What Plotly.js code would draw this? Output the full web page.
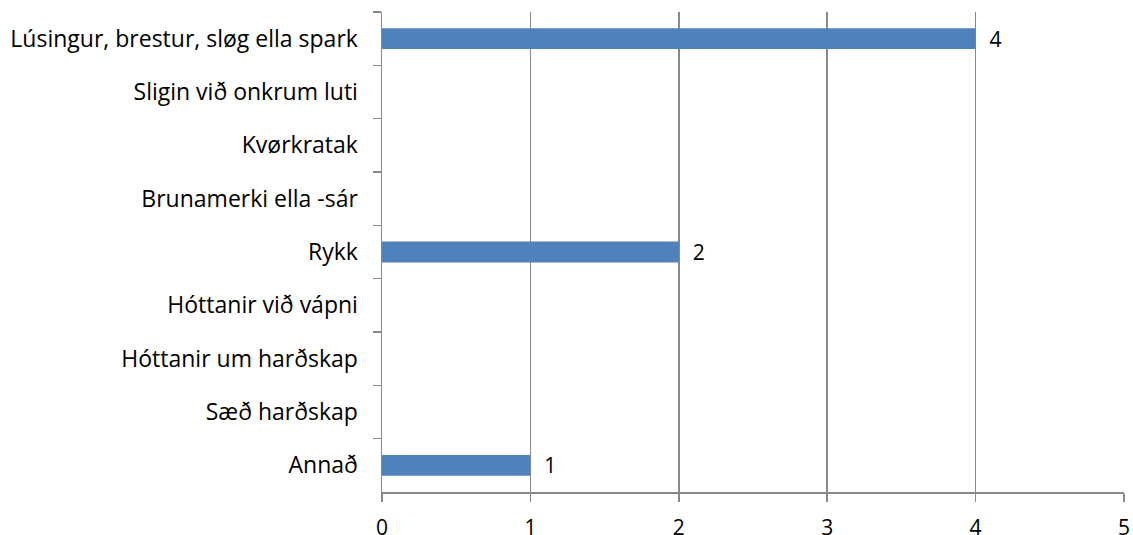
<!DOCTYPE html>
<html><head><meta charset="utf-8">
<script src="https://cdn.plot.ly/plotly-3.0.1.min.js"></script>
<style>html,body{margin:0;padding:0;background:#fff}#c{width:1133px;height:535px}</style>
</head><body><div id="c"></div>
<script>
const categories = ["Lúsingur, brestur, sløg ella spark","Sligin við onkrum luti","Kvørkratak","Brunamerki ella -sár","Rykk","Hóttanir við vápni","Hóttanir um harðskap","Sæð harðskap","Annað"];
const values = [4,0,0,0,2,0,0,0,1];
const xTicks = [0,1,2,3,4,5];

const font = {family: "'Open Sans', 'Liberation Sans', sans-serif", size: 23, color: "#000"};
const trace = {
  type: "bar", orientation: "h",
  y: categories, x: values,
  marker: {color: "#4F81BD"},
  text: values.map(v => v > 0 ? "  " + v : ""),
  textposition: "outside", cliponaxis: false, constraintext: "none",
  textfont: {family: font.family, size: 21, color: "#000"},
  hoverinfo: "none"
};
const layout = {
  width: 1133, height: 535,
  margin: {l: 382, r: 9, t: 12, b: 43},
  paper_bgcolor: "#fff", plot_bgcolor: "#fff",
  showlegend: false,
  bargap: 0.61,
  font: font,
  xaxis: {
    range: [0, 5], tickvals: xTicks, ticktext: xTicks.map(String),
    showgrid: true, gridcolor: "#898989", gridwidth: 1.5,
    showline: true, linecolor: "#898989", linewidth: 1.5,
    ticks: "outside", ticklen: 8, tickcolor: "#898989", tickwidth: 1.5,
    zeroline: false, tickfont: {family: font.family, size: 21, color: "#000"}, ticklabelstandoff: 8, fixedrange: true
  },
  yaxis: {
    type: "category", autorange: "reversed",
    tickson: "boundaries",
    showgrid: false, showline: true, linecolor: "#898989", linewidth: 1.5,
    ticks: "outside", ticklen: 8, tickcolor: "#898989", tickwidth: 1.5,
    tickfont: font, ticklabelstandoff: 18, fixedrange: true
  }
};
Plotly.newPlot("c", [trace], layout, {staticPlot: true, displayModeBar: false});
</script></body></html>
